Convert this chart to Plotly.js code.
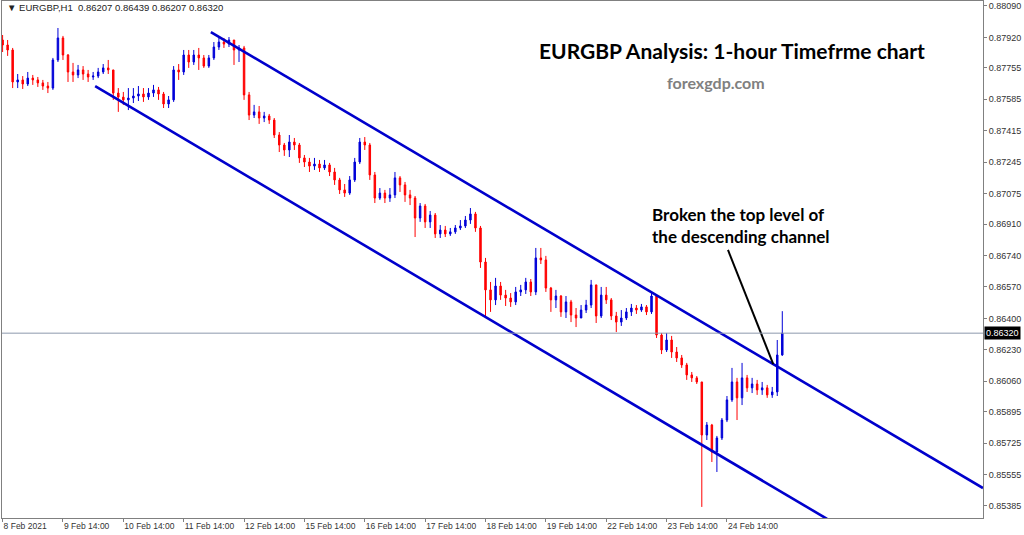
<!DOCTYPE html>
<html>
<head>
<meta charset="utf-8">
<script src="https://cdn.plot.ly/plotly-3.0.1.min.js"></script>
<style>html,body{margin:0;padding:0;background:#fff;}#chart{width:1024px;height:535px;}</style>
</head>
<body>
<div id="chart"></div>
<script>
// 2-hour candles from 8 Feb 2021 14:00 to 25 Feb 2021 12:00 (EURGBP)
const firstOpen = 0.87906;
const closes = [
0.87879,0.87852,0.87679,0.87690,0.87668,0.87700,0.87690,0.87674,0.87657,0.87646,
0.87798,0.87917,0.87825,0.87733,0.87717,0.87744,0.87722,0.87706,0.87711,0.87733,
0.87755,0.87744,0.87619,0.87597,0.87582,0.87592,0.87603,0.87614,0.87598,0.87619,
0.87636,0.87614,0.87560,0.87582,0.87744,0.87733,0.87825,0.87787,0.87825,0.87809,
0.87765,0.87809,0.87868,0.87895,0.87884,0.87906,0.87852,0.87863,0.87609,0.87500,
0.87517,0.87484,0.87495,0.87473,0.87392,0.87338,0.87311,0.87354,0.87338,0.87268,
0.87246,0.87224,0.87235,0.87214,0.87230,0.87192,0.87149,0.87095,0.87078,0.87149,
0.87246,0.87354,0.87338,0.87176,0.87051,0.87078,0.87051,0.87068,0.87160,0.87122,
0.87068,0.87051,0.86943,0.87008,0.86922,0.86959,0.86857,0.86878,0.86857,0.86868,
0.86889,0.86900,0.86932,0.86965,0.86889,0.86705,0.86554,0.86500,0.86575,0.86526,
0.86510,0.86489,0.86543,0.86554,0.86597,0.86543,0.86727,0.86716,0.86564,0.86500,
0.86521,0.86435,0.86489,0.86418,0.86402,0.86445,0.86472,0.86581,0.86413,0.86526,
0.86500,0.86413,0.86380,0.86402,0.86435,0.86456,0.86445,0.86462,0.86435,0.86521,
0.86310,0.86229,0.86283,0.86218,0.86186,0.86148,0.86094,0.86078,0.86056,0.85769,
0.85823,0.85677,0.85753,0.85850,0.85959,0.86056,0.85970,0.86078,0.86024,0.86045,
0.86013,0.86024,0.85986,0.86002,0.86202,0.86320];
const highs = [
0.87933,0.87906,0.87863,0.87722,0.87711,0.87733,0.87717,0.87706,0.87690,0.87679,
0.87809,0.87971,0.87928,0.87830,0.87782,0.87771,0.87765,0.87744,0.87733,0.87755,
0.87776,0.87798,0.87744,0.87646,0.87625,0.87646,0.87646,0.87657,0.87646,0.87646,
0.87663,0.87652,0.87625,0.87603,0.87765,0.87776,0.87852,0.87852,0.87852,0.87863,
0.87825,0.87825,0.87895,0.87917,0.87917,0.87922,0.87906,0.87879,0.87874,0.87625,
0.87555,0.87549,0.87517,0.87506,0.87484,0.87408,0.87349,0.87392,0.87376,0.87349,
0.87284,0.87268,0.87268,0.87257,0.87257,0.87241,0.87214,0.87160,0.87127,0.87170,
0.87268,0.87376,0.87381,0.87349,0.87192,0.87105,0.87095,0.87105,0.87192,0.87170,
0.87138,0.87095,0.87062,0.87024,0.87019,0.86981,0.86970,0.86905,0.86900,0.86889,
0.86905,0.86932,0.86954,0.86997,0.86976,0.86900,0.86727,0.86597,0.86619,0.86597,
0.86554,0.86537,0.86570,0.86581,0.86619,0.86613,0.86781,0.86781,0.86738,0.86570,
0.86554,0.86526,0.86521,0.86500,0.86456,0.86472,0.86500,0.86608,0.86575,0.86570,
0.86570,0.86510,0.86435,0.86445,0.86456,0.86478,0.86472,0.86478,0.86472,0.86537,
0.86516,0.86321,0.86321,0.86305,0.86245,0.86202,0.86159,0.86110,0.86088,0.86056,
0.85839,0.85829,0.85764,0.85861,0.85980,0.86132,0.86078,0.86159,0.86094,0.86078,
0.86067,0.86056,0.86040,0.86029,0.86283,0.86439];
const lows = [
0.87841,0.87820,0.87646,0.87646,0.87641,0.87657,0.87663,0.87652,0.87636,0.87619,
0.87636,0.87787,0.87798,0.87679,0.87679,0.87700,0.87690,0.87679,0.87690,0.87700,
0.87722,0.87722,0.87582,0.87517,0.87555,0.87527,0.87565,0.87576,0.87571,0.87582,
0.87598,0.87582,0.87538,0.87538,0.87571,0.87690,0.87717,0.87755,0.87771,0.87744,
0.87755,0.87755,0.87798,0.87852,0.87863,0.87868,0.87771,0.87787,0.87582,0.87473,
0.87484,0.87452,0.87462,0.87452,0.87376,0.87300,0.87279,0.87273,0.87311,0.87241,
0.87219,0.87192,0.87203,0.87192,0.87203,0.87170,0.87122,0.87073,0.87057,0.87068,
0.87138,0.87235,0.87311,0.87149,0.87024,0.87041,0.87024,0.87030,0.87051,0.87084,
0.87030,0.87013,0.86840,0.86922,0.86889,0.86889,0.86835,0.86835,0.86840,0.86846,
0.86857,0.86878,0.86889,0.86911,0.86868,0.86673,0.86408,0.86435,0.86472,0.86500,
0.86467,0.86462,0.86472,0.86521,0.86532,0.86521,0.86526,0.86694,0.86543,0.86435,
0.86456,0.86408,0.86402,0.86380,0.86353,0.86413,0.86429,0.86456,0.86375,0.86402,
0.86478,0.86391,0.86326,0.86359,0.86391,0.86413,0.86424,0.86435,0.86418,0.86424,
0.86294,0.86207,0.86218,0.86186,0.86164,0.86132,0.86067,0.86056,0.86045,0.85380,
0.85742,0.85623,0.85569,0.85742,0.85839,0.85948,0.85850,0.85931,0.86002,0.85996,
0.85986,0.85986,0.85970,0.85970,0.85980,0.86197];

// Trendline anchors: [bar index, price]
const upperChannel = [[41.4, 0.87949], [194.9, 0.85482]];
const lowerChannel = [[18.4, 0.87657], [163.9, 0.85315]];
const pointer = [[144.2, 0.86770], [153.2, 0.86153]];
const currentPrice = 0.86320;

const yTicks = [0.88090,0.87920,0.87755,0.87585,0.87415,0.87245,0.87075,0.86910,0.86740,0.86570,0.86400,0.86230,0.86060,0.85895,0.85725,0.85555,0.85385];
const xTickLabels = ["8 Feb 2021","9 Feb 14:00","10 Feb 14:00","11 Feb 14:00","12 Feb 14:00","15 Feb 14:00","16 Feb 14:00","17 Feb 14:00","18 Feb 14:00","19 Feb 14:00","22 Feb 14:00","23 Feb 14:00","24 Feb 14:00"];
const barsPerLabel = 12;

const opens = closes.map((c, i) => i === 0 ? firstOpen : closes[i - 1]);
const idx = closes.map((c, i) => i);

const BLUE = '#0000d8', RED = '#ff0000';

const traces = [
  {
    type: 'candlestick', x: idx, open: opens, high: highs, low: lows, close: closes,
    increasing: {line: {color: BLUE, width: 1}, fillcolor: BLUE},
    decreasing: {line: {color: RED, width: 1}, fillcolor: RED},
    whiskerwidth: 0, hoverinfo: 'skip', showlegend: false
  },
  {
    type: 'scatter', mode: 'lines', x: upperChannel.map(p => p[0]), y: upperChannel.map(p => p[1]),
    line: {color: '#0000cc', width: 2.6}, hoverinfo: 'skip', showlegend: false
  },
  {
    type: 'scatter', mode: 'lines', x: lowerChannel.map(p => p[0]), y: lowerChannel.map(p => p[1]),
    line: {color: '#0000cc', width: 2.6}, hoverinfo: 'skip', showlegend: false
  },
  {
    type: 'scatter', mode: 'lines', x: pointer.map(p => p[0]), y: pointer.map(p => p[1]),
    line: {color: '#000000', width: 2}, hoverinfo: 'skip', showlegend: false
  }
];

const layout = {
  width: 1024, height: 535,
  margin: {l: 2, r: 41, t: 1, b: 17},
  paper_bgcolor: '#ffffff', plot_bgcolor: '#ffffff',
  showlegend: false,
  boxgap: 0.58,
  xaxis: {
    type: 'linear', range: [-0.12, 194.9], rangeslider: {visible: false},
    showgrid: false, zeroline: false,
    showline: true, mirror: true, linecolor: '#808080', linewidth: 1,
    tickvals: xTickLabels.map((t, i) => i * barsPerLabel), ticktext: xTickLabels,
    ticks: 'outside', ticklen: 3, tickcolor: '#808080',
    ticklabelposition: 'outside right',
    tickfont: {family: 'Liberation Sans, Arial, sans-serif', size: 8.5, color: '#333333'},
    fixedrange: true
  },
  yaxis: {
    side: 'right', range: [0.85320, 0.88117],
    showgrid: false, zeroline: false,
    showline: true, mirror: true, linecolor: '#808080', linewidth: 1,
    tickvals: yTicks, ticktext: yTicks.map(v => v.toFixed(5)),
    ticks: 'outside', ticklen: 3, tickcolor: '#808080',
    tickfont: {family: 'Liberation Sans, Arial, sans-serif', size: 9, color: '#333333'},
    fixedrange: true
  },
  shapes: [
    {type: 'line', xref: 'paper', x0: 0, x1: 1, yref: 'y', y0: currentPrice, y1: currentPrice,
     line: {color: '#8c98ac', width: 1}}
  ],
  annotations: [
    {xref: 'paper', yref: 'y', x: 1, y: currentPrice, xanchor: 'left', yanchor: 'middle', xshift: 1,
     text: currentPrice.toFixed(5), showarrow: false, bgcolor: '#000000', borderpad: 1,
     font: {family: 'Liberation Sans, Arial, sans-serif', size: 9, color: '#ffffff'}},
    {xref: 'paper', yref: 'paper', x: 0.003, y: 0.988, xanchor: 'left', yanchor: 'middle',
     text: '▼ EURGBP,H1  0.86207 0.86439 0.86207 0.86320', showarrow: false,
     font: {family: 'Liberation Sans, Arial, sans-serif', size: 9.5, color: '#222222'}},
    {xref: 'paper', yref: 'paper', x: 0.744, y: 0.905, xanchor: 'center', yanchor: 'middle',
     text: '<b>EURGBP Analysis: 1-hour Timefrme chart</b>', showarrow: false,
     font: {family: 'Lato, Open Sans, sans-serif', size: 21, color: '#000000'}},
    {xref: 'paper', yref: 'paper', x: 0.728, y: 0.843, xanchor: 'center', yanchor: 'middle',
     text: '<b>forexgdp.com</b>', showarrow: false,
     font: {family: 'Lato, Open Sans, sans-serif', size: 16, color: '#808080'}},
    {xref: 'paper', yref: 'paper', x: 0.6606, y: 0.565, xanchor: 'left', yanchor: 'middle', align: 'left',
     text: '<b>Broken the top level of<br>the descending channel</b>', showarrow: false,
     font: {family: 'Lato, Open Sans, sans-serif', size: 17, color: '#000000'}}
  ]
};

Plotly.newPlot('chart', traces, layout, {displayModeBar: false, staticPlot: true});
</script>
</body>
</html>
